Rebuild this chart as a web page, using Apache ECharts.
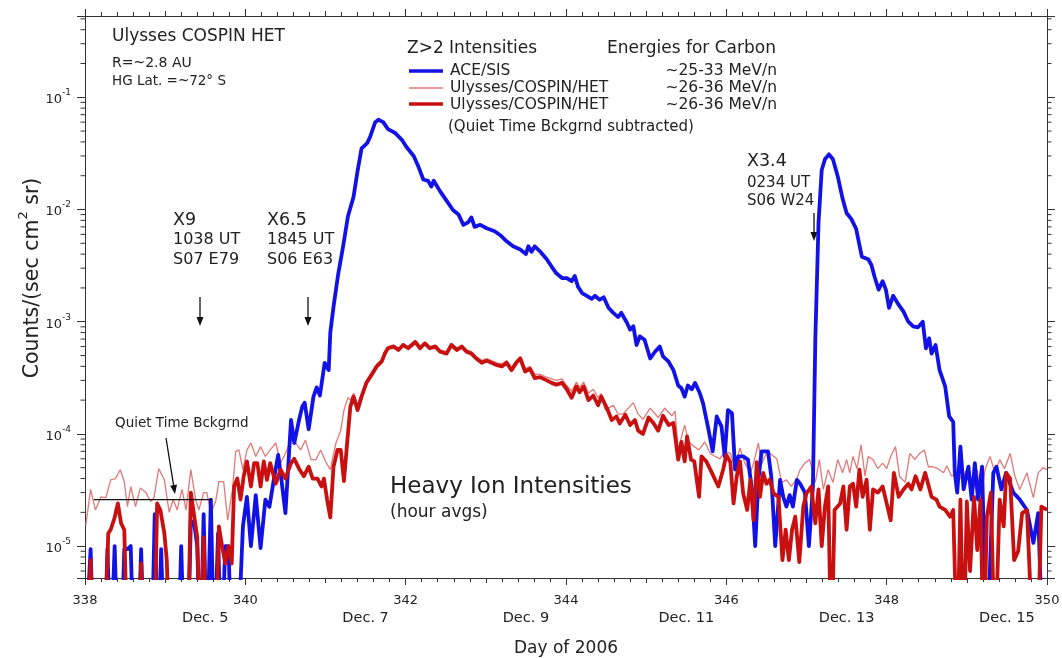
<!DOCTYPE html>
<html><head><meta charset="utf-8">
<script src="https://cdn.jsdelivr.net/npm/echarts@6/dist/echarts.min.js"></script>
<style>html,body{margin:0;padding:0;background:#fff}#c{width:1062px;height:658px}</style>
</head><body><div id="c"></div>
<script>
// ---- DATA (day of 2006, counts/(sec cm^2 sr)); 1e-6 = zero count (below axis) ----
const aceSis = [
[338.00,1e-6],[338.07,9.4e-6],[338.11,1e-6],
[338.24,1e-6],[338.28,9.4e-6],[338.32,1e-6],[338.37,1e-5],[338.41,1e-6],
[338.45,1e-6],[338.49,9.4e-6],[338.53,9.4e-6],[338.57,1e-5],[338.61,1e-6],
[338.66,1e-6],[338.70,9.4e-6],[338.74,1e-6],
[338.83,1e-6],[338.87,1.93e-5],[338.91,1e-6],[338.95,9.4e-6],[338.99,1e-6],
[339.16,1e-6],[339.20,1e-5],[339.24,1e-6],
[339.28,1e-6],[339.32,1.65e-5],[339.36,1.65e-5],[339.40,1e-5],[339.44,1e-6],[339.48,1.93e-5],[339.52,1e-6],
[339.57,2.6e-5],[339.61,1e-6],[339.66,1.3e-5],[339.70,1e-6],[339.75,1e-5],[339.79,1e-5],[339.83,1e-6],[339.90,1e-6],
[339.97,1.5e-5],[340.02,2.75e-5],[340.07,1e-5],[340.13,2.85e-5],[340.19,9.6e-6],[340.25,2.6e-5],[340.30,2.24e-5],
[340.36,4.1e-5],[340.41,6.5e-5],[340.45,3.9e-5],[340.50,1.97e-5],[340.57,1.33e-4],[340.61,8.3e-5],[340.67,1.33e-4],
[340.71,1.75e-4],[340.74,1.9e-4],[340.79,1.1e-4],[340.85,2.15e-4],[340.89,2.6e-4],[340.93,2.2e-4],[340.99,4.3e-4],
[341.04,3.7e-4],[341.06,8e-4],[341.10,1.36e-3],[341.16,2.7e-3],[341.22,4.7e-3],[341.28,8.7e-3],[341.35,1.3e-2],
[341.40,2.2e-2],[341.45,3.5e-2],[341.52,3.9e-2],[341.56,4.5e-2],[341.62,6e-2],[341.66,6.3e-2],[341.72,6e-2],
[341.78,5.2e-2],[341.87,4.8e-2],[341.95,4.2e-2],[342.01,3.6e-2],[342.10,3e-2],[342.16,2.4e-2],[342.22,1.85e-2],
[342.28,1.8e-2],[342.32,1.6e-2],[342.35,1.8e-2],[342.43,1.45e-2],[342.51,1.2e-2],[342.59,9.9e-3],[342.66,9e-3],
[342.72,7.3e-3],[342.78,7.7e-3],[342.82,8.5e-3],[342.86,7e-3],[342.93,7.3e-3],[343.01,6.8e-3],[343.11,6.4e-3],
[343.18,5.9e-3],[343.26,5.2e-3],[343.34,4.7e-3],[343.43,4.4e-3],[343.50,4.0e-3],[343.53,4.7e-3],[343.57,4.2e-3],
[343.61,4.7e-3],[343.68,4.2e-3],[343.76,3.6e-3],[343.82,3.1e-3],[343.88,2.7e-3],[343.95,2.45e-3],[344.01,2.45e-3],
[344.07,2.3e-3],[344.11,2.55e-3],[344.15,2.05e-3],[344.20,1.8e-3],[344.26,1.7e-3],[344.32,1.6e-3],[344.36,1.7e-3],
[344.42,1.57e-3],[344.47,1.65e-3],[344.53,1.33e-3],[344.59,1.2e-3],[344.65,1.1e-3],[344.69,1.2e-3],[344.76,9.8e-4],
[344.80,8.5e-4],[344.84,9.1e-4],[344.88,6.2e-4],[344.92,7.4e-4],[344.98,6.9e-4],[345.05,4.7e-4],[345.11,5.4e-4],
[345.17,6.0e-4],[345.21,4.9e-4],[345.28,4.4e-4],[345.34,3.7e-4],[345.40,2.7e-4],[345.44,2.55e-4],[345.48,2.15e-4],
[345.52,2.7e-4],[345.57,2.5e-4],[345.61,2.85e-4],[345.67,2.3e-4],[345.71,1.87e-4],[345.77,1.16e-4],[345.83,7e-5],
[345.88,1.43e-4],[345.94,1.16e-4],[345.98,6.3e-5],[346.02,1.63e-4],[346.07,1.53e-4],[346.11,4.8e-5],[346.15,6.3e-5],
[346.21,6.3e-5],[346.27,5.9e-5],[346.32,3.2e-5],[346.36,1e-5],[346.40,3.9e-5],[346.44,7e-5],[346.52,7e-5],
[346.56,4.2e-5],[346.61,1e-5],[346.67,3.9e-5],[346.71,2.75e-5],[346.75,2.25e-5],[346.79,2.85e-5],[346.83,2.25e-5],
[346.88,3.9e-5],[346.92,3.6e-5],[346.98,3e-5],[347.03,1e-5],[347.08,3.4e-5],[347.11,6.9e-4],[347.15,7.6e-3],
[347.19,2.25e-2],[347.23,2.8e-2],[347.28,3.1e-2],[347.33,2.8e-2],[347.39,1.97e-2],[347.45,1.25e-2],[347.50,9.3e-3],
[347.56,8.2e-3],[347.62,6.7e-3],[347.69,3.8e-3],[347.77,3.6e-3],[347.81,3.2e-3],[347.85,2.5e-3],[347.90,1.93e-3],
[347.95,2.3e-3],[347.99,1.93e-3],[348.03,1.33e-3],[348.08,1.7e-3],[348.14,1.45e-3],[348.21,1.23e-3],[348.27,1e-3],
[348.33,9.1e-4],[348.39,8.9e-4],[348.45,1e-3],[348.49,5.8e-4],[348.53,7.1e-4],[348.56,5.2e-4],[348.61,6.2e-4],
[348.66,3.7e-4],[348.73,2.65e-4],[348.78,1.43e-4],[348.83,1.28e-4],[348.85,4.5e-5],[348.88,3e-5],[348.92,7.7e-5],
[348.96,3.2e-5],[349.02,5.1e-5],[349.06,2.6e-5],[349.10,5.5e-5],[349.14,2.6e-5],[349.19,5.1e-5],[349.25,1e-6],
[349.33,4.5e-5],[349.37,5.1e-5],[349.43,3.2e-5],[349.49,4.5e-5],[349.58,3e-5],[349.66,2.6e-5],[349.75,2.1e-5],
[349.83,1.07e-5],[349.89,1.97e-5],[349.95,1e-6]
];
const hetRaw = [
[338.01,1.54e-5],[338.07,3.2e-5],[338.13,2.1e-5],[338.20,2.75e-5],[338.26,2.7e-5],[338.32,3.9e-5],[338.38,4e-5],
[338.44,4.8e-5],[338.49,3.75e-5],[338.53,2.25e-5],[338.57,3.4e-5],[338.63,2.25e-5],[338.69,3.3e-5],[338.76,3e-5],
[338.82,2.5e-5],[338.86,2.7e-5],[338.92,4.9e-5],[338.99,3.9e-5],[339.05,2e-5],[339.10,2.6e-5],[339.15,2.1e-5],
[339.21,3.2e-5],[339.26,2.1e-5],[339.32,4.8e-5],[339.38,2.6e-5],[339.42,2.1e-5],[339.48,3e-5],[339.52,3e-5],
[339.57,1.97e-5],[339.63,2.5e-5],[339.67,3.75e-5],[339.73,3.75e-5],[339.78,1.7e-5],[339.84,3.2e-5],[339.88,7e-5],
[339.92,7.2e-5],[339.97,4.8e-5],[340.02,7.2e-5],[340.07,8.3e-5],[340.13,6.3e-5],[340.19,7.7e-5],[340.25,6.3e-5],
[340.31,7.2e-5],[340.38,8.3e-5],[340.44,5.5e-5],[340.50,6.7e-5],[340.57,8.8e-5],[340.63,8.3e-5],[340.69,7.2e-5],
[340.75,8.8e-5],[340.82,5.9e-5],[340.88,5.9e-5],[340.94,7.2e-5],[341.00,5.7e-5],[341.06,4.8e-5],[341.13,8.3e-5],
[341.19,1.07e-4],[341.23,1.63e-4],[341.28,2.1e-4],[341.31,2.0e-4],[341.35,2.3e-4],[341.40,1.8e-4],[341.45,2.3e-4],
[341.51,3.0e-4],[341.58,3.6e-4],[341.64,4.2e-4],[341.70,4.6e-4],[341.74,5.4e-4],[341.78,6.0e-4],[341.85,6.2e-4],
[341.91,5.8e-4],[341.97,6.4e-4],[342.03,6.0e-4],[342.12,6.8e-4],[342.18,6.0e-4],[342.24,6.6e-4],[342.30,6.0e-4],
[342.37,6.2e-4],[342.43,5.6e-4],[342.51,5.4e-4],[342.57,6.4e-4],[342.64,5.8e-4],[342.70,6.2e-4],[342.76,5.6e-4],
[342.82,5.4e-4],[342.88,4.9e-4],[342.95,4.5e-4],[343.01,4.7e-4],[343.07,4.5e-4],[343.14,4.3e-4],[343.20,4.2e-4],
[343.26,4.5e-4],[343.32,3.9e-4],[343.38,4.5e-4],[343.43,4.9e-4],[343.49,3.8e-4],[343.55,4.0e-4],[343.61,3.4e-4],
[343.68,3.4e-4],[343.76,3.2e-4],[343.82,3.1e-4],[343.88,3.0e-4],[343.95,3.1e-4],[344.01,2.7e-4],[344.07,2.4e-4],
[344.13,2.9e-4],[344.17,2.6e-4],[344.22,2.9e-4],[344.28,2.3e-4],[344.34,2.5e-4],[344.40,2.1e-4],[344.44,2.3e-4],
[344.49,1.63e-4],[344.59,1.8e-4],[344.65,1.5e-4],[344.71,1.5e-4],[344.84,1.9e-4],[344.90,1.5e-4],[344.96,1.35e-4],
[345.05,1.7e-4],[345.15,1.4e-4],[345.23,1.7e-4],[345.32,1.45e-4],[345.36,1.6e-4],[345.40,7.2e-5],[345.48,1.2e-4],
[345.53,8.5e-5],[345.60,7.7e-5],[345.66,7.2e-5],[345.73,8.5e-5],[345.80,6.7e-5],[345.86,6.3e-5],[345.92,6e-5],
[345.98,7e-5],[346.05,6.7e-5],[346.11,5e-5],[346.17,7.5e-5],[346.23,5.5e-5],[346.30,4.5e-5],[346.34,5.5e-5],
[346.40,8.3e-5],[346.44,5.4e-5],[346.51,7e-5],[346.57,6.5e-5],[346.63,6e-5],[346.69,3.7e-5],[346.75,3.9e-5],
[346.81,3.4e-5],[346.88,4e-5],[346.92,4.8e-5],[346.98,5.5e-5],[347.04,5.9e-5],[347.11,3.7e-5],[347.16,5.9e-5],
[347.21,3.2e-5],[347.27,4.8e-5],[347.33,3.7e-5],[347.39,5.9e-5],[347.45,4.5e-5],[347.50,5.9e-5],[347.54,4.5e-5],
[347.58,6.3e-5],[347.63,4.9e-5],[347.68,8e-5],[347.73,4.2e-5],[347.77,6.3e-5],[347.83,5.9e-5],[347.89,4.9e-5],
[347.95,5.5e-5],[348.00,4.9e-5],[348.05,6.3e-5],[348.11,7.7e-5],[348.16,4.2e-5],[348.23,3.7e-5],[348.29,6.7e-5],
[348.35,5.9e-5],[348.41,6.7e-5],[348.47,7.2e-5],[348.52,5.1e-5],[348.58,5.1e-5],[348.64,4.9e-5],[348.71,4.5e-5],
[348.75,5.2e-5],[348.81,4.2e-5],[348.88,4.5e-5],[348.94,3.9e-5],[349.00,4.9e-5],[349.06,2.75e-5],[349.13,4.8e-5],
[349.17,2.6e-5],[349.23,4.9e-5],[349.29,6.3e-5],[349.35,4.5e-5],[349.41,5.9e-5],[349.47,4.9e-5],[349.54,6.7e-5],
[349.60,4.2e-5],[349.66,3.2e-5],[349.75,4.5e-5],[349.83,2.7e-5],[349.89,4.5e-5],[349.95,5e-5],[350.00,4.8e-5]
];
const hetSub = [
[338.03,1e-6],[338.07,7.5e-6],[338.11,1e-6],
[338.24,1e-6],[338.29,1.3e-5],[338.32,1.4e-5],[338.37,1.8e-5],[338.41,2.4e-5],[338.45,1.6e-5],[338.49,1.4e-5],[338.53,1e-6],
[338.66,1e-6],[338.70,7e-6],[338.74,1e-6],
[338.86,1e-6],[338.90,2.4e-5],[338.94,2.1e-5],[338.99,1.3e-5],[339.02,7.5e-6],[339.06,1e-6],
[339.28,1e-6],[339.32,3e-5],[339.36,1.9e-5],[339.40,1.2e-5],[339.44,1e-6],[339.48,1.2e-5],[339.52,1e-6],
[339.63,1e-6],[339.67,1.5e-5],[339.71,1e-5],[339.75,7e-6],[339.79,1e-5],[339.83,7e-6],[339.86,3.4e-5],[339.90,4e-5],
[339.94,2.6e-5],[339.98,4.2e-5],[340.02,5.7e-5],[340.07,3.4e-5],[340.11,5.5e-5],[340.15,5.5e-5],[340.19,3.4e-5],
[340.23,5.7e-5],[340.27,3.9e-5],[340.31,5.5e-5],[340.38,3.6e-5],[340.44,4.8e-5],[340.50,4e-5],[340.57,5.5e-5],
[340.61,6e-5],[340.67,4.9e-5],[340.73,4.2e-5],[340.79,5.1e-5],[340.84,4e-5],[340.90,4e-5],[340.95,3.4e-5],
[340.98,4e-5],[341.02,2.6e-5],[341.06,1.8e-5],[341.10,5.1e-5],[341.15,7.2e-5],[341.19,7.2e-5],[341.23,3.8e-5],
[341.27,8.3e-5],[341.31,1.75e-4],[341.35,2.15e-4],[341.40,1.63e-4],[341.45,2.15e-4],[341.51,2.85e-4],[341.58,3.4e-4],
[341.64,4e-4],[341.70,4.4e-4],[341.74,5.2e-4],[341.78,5.8e-4],[341.85,6e-4],[341.91,5.6e-4],[341.97,6.2e-4],
[342.03,5.8e-4],[342.12,6.6e-4],[342.18,5.8e-4],[342.24,6.4e-4],[342.30,5.8e-4],[342.37,6e-4],[342.43,5.4e-4],
[342.51,5.2e-4],[342.57,6.2e-4],[342.64,5.6e-4],[342.70,6e-4],[342.76,5.4e-4],[342.82,5.2e-4],[342.88,4.7e-4],
[342.95,4.3e-4],[343.01,4.5e-4],[343.07,4.3e-4],[343.14,4.1e-4],[343.20,4e-4],[343.26,4.3e-4],[343.32,3.7e-4],
[343.38,4.3e-4],[343.43,4.7e-4],[343.49,3.6e-4],[343.55,3.8e-4],[343.61,3.15e-4],[343.68,3.2e-4],[343.76,3e-4],
[343.82,2.85e-4],[343.88,2.75e-4],[343.95,2.85e-4],[344.01,2.5e-4],[344.07,2.1e-4],[344.13,2.65e-4],[344.17,2.35e-4],
[344.22,2.65e-4],[344.28,2e-4],[344.34,2.2e-4],[344.40,1.8e-4],[344.44,2.15e-4],[344.51,1.7e-4],[344.57,1.33e-4],
[344.63,1.43e-4],[344.67,1.24e-4],[344.74,1.48e-4],[344.80,1.2e-4],[344.86,1.33e-4],[344.90,1.07e-4],[344.96,1e-4],
[345.03,1.4e-4],[345.09,1.25e-4],[345.15,1.07e-4],[345.21,1.45e-4],[345.28,1.2e-4],[345.34,1.25e-4],[345.40,5.9e-5],
[345.44,8.5e-5],[345.48,5.7e-5],[345.51,9.5e-5],[345.56,5.9e-5],[345.60,5.7e-5],[345.66,2.75e-5],[345.69,6.3e-5],
[345.75,5.7e-5],[345.82,4.5e-5],[345.86,3.9e-5],[345.90,3.4e-5],[345.96,4.8e-5],[346.00,6.5e-5],[346.05,5.6e-5],
[346.09,2.4e-5],[346.13,4.2e-5],[346.17,5.7e-5],[346.21,2.95e-5],[346.26,2.1e-5],[346.30,3.9e-5],[346.34,1.7e-5],
[346.38,5.6e-5],[346.42,2.75e-5],[346.46,4.5e-5],[346.50,3.6e-5],[346.54,3.9e-5],[346.59,2.95e-5],[346.65,2.75e-5],
[346.70,7.5e-6],[346.74,1.4e-5],[346.78,7.5e-6],[346.82,1.4e-5],[346.86,1.83e-5],[346.91,7.2e-6],[346.96,2.25e-5],
[347.00,2.95e-5],[347.06,3.4e-5],[347.11,1.6e-5],[347.15,3.2e-5],[347.19,1e-5],[347.23,2.25e-5],[347.27,3.4e-5],
[347.31,1e-6],[347.35,2.1e-5],[347.42,2.4e-5],[347.46,3.4e-5],[347.50,1.4e-5],[347.54,3.4e-5],[347.58,3.6e-5],
[347.62,2.25e-5],[347.66,4.8e-5],[347.70,2.75e-5],[347.75,3.9e-5],[347.79,1.4e-5],[347.83,3.2e-5],[347.89,3e-5],
[347.95,3.4e-5],[348.01,2.25e-5],[348.05,1.7e-5],[348.09,4.5e-5],[348.15,2.75e-5],[348.21,3.2e-5],[348.27,3.6e-5],
[348.31,3.2e-5],[348.36,4.2e-5],[348.42,3.2e-5],[348.48,4.5e-5],[348.56,2.75e-5],[348.62,2.6e-5],[348.66,2.25e-5],
[348.73,2.1e-5],[348.79,1.83e-5],[348.83,2.1e-5],[348.88,1e-6],[348.92,2.6e-5],[348.96,1e-6],[349.00,2.5e-5],
[349.04,6e-6],[349.09,2.75e-5],[349.13,9.2e-6],[349.17,2.6e-5],[349.21,1e-6],[349.25,1.83e-5],[349.30,3e-5],
[349.35,1e-6],[349.41,2.6e-5],[349.46,1.5e-5],[349.49,4.5e-5],[349.54,4e-5],[349.59,7.5e-6],[349.64,9e-6],
[349.69,1.97e-5],[349.75,2.1e-5],[349.83,1e-6],[349.88,1e-6],[349.93,2.25e-5],[350.00,2.1e-5]
];
const quietBg = [[338.11,2.6e-5],[339.58,2.6e-5]];
const yMinorTicks = [6e-6,7e-6,8e-6,9e-6,2e-5,3e-5,4e-5,5e-5,6e-5,7e-5,8e-5,9e-5,
  2e-4,3e-4,4e-4,5e-4,6e-4,7e-4,8e-4,9e-4,2e-3,3e-3,4e-3,5e-3,6e-3,7e-3,8e-3,9e-3,
  2e-2,3e-2,4e-2,5e-2,6e-2,7e-2,8e-2,9e-2,2e-1,3e-1,4e-1,5e-1];
const dateLabels = {339.5:'Dec. 5',341.5:'Dec. 7',343.5:'Dec. 9',345.5:'Dec. 11',347.5:'Dec. 13',349.5:'Dec. 15'};
const X_MIN = 338, X_MAX = 350, Y_MIN = 5.2e-6, Y_MAX = 0.53;

// ---- CHART ----
const FONT = 'DejaVu Sans';
const INK = '#222';
const AX = '#333';
const chart = echarts.init(document.getElementById('c'), null, {renderer:'canvas'});

function txt(x, y, s, size, extra) {
  return Object.assign({type:'text', x:x, y:y, silent:true,
    style:Object.assign({text:s, fill:INK, fontSize:size, fontFamily:FONT, verticalAlign:'middle'}, (extra||{}))});
}
function arrow(x1,y1,x2,y2){
  const dx=x2-x1, dy=y2-y1, L=Math.hypot(dx,dy), ux=dx/L, uy=dy/L;
  const bx=x2-ux*9, by=y2-uy*9, px=-uy*3.5, py=ux*3.5;
  return {type:'group', silent:true, children:[
    {type:'line', shape:{x1:x1,y1:y1,x2:bx,y2:by}, style:{stroke:'#111', lineWidth:1.3}},
    {type:'polygon', shape:{points:[[x2,y2],[bx+px,by+py],[bx-px,by-py]]}, style:{fill:'#111'}}
  ]};
}
const supRich = {
  b:{fontSize:13, fontFamily:FONT, color:INK, lineHeight:18, verticalAlign:'bottom'},
  s:{fontSize:9, fontFamily:FONT, color:INK, lineHeight:18, verticalAlign:'top'}
};

const xBase = {type:'value', min:X_MIN, max:X_MAX, gridIndex:0,
  axisLine:{show:false, onZero:false}, splitLine:{show:false}, axisLabel:{show:false}, axisTick:{show:false}};

const option = {
  animation:false,
  backgroundColor:'#fff',
  grid:{left:85, right:15, top:16, bottom:80, containLabel:false, outerBoundsMode:'none'},
  xAxis:[
    Object.assign({}, xBase, {position:'bottom', interval:2,
      axisLine:{show:true, onZero:false, lineStyle:{color:AX, width:1}},
      axisTick:{show:true, length:7, lineStyle:{color:AX}},
      minorTick:{show:true, splitNumber:10, length:4, lineStyle:{color:AX}},
      axisLabel:{show:true, color:INK, fontSize:13, fontFamily:FONT, margin:16},
      name:'Day of 2006', nameLocation:'middle', nameGap:62,
      nameTextStyle:{color:INK, fontSize:17, fontFamily:FONT}}),
    Object.assign({}, xBase, {position:'bottom', interval:1,
      axisTick:{show:true, length:5, lineStyle:{color:AX}}}),
    Object.assign({}, xBase, {position:'bottom', interval:0.5,
      axisLabel:{show:true, color:INK, fontSize:14.5, fontFamily:FONT, margin:33,
        formatter:v => dateLabels[v] || ''}}),
    Object.assign({}, xBase, {position:'top', interval:2,
      axisLine:{show:true, onZero:false, lineStyle:{color:AX, width:1}},
      axisTick:{show:true, length:7, lineStyle:{color:AX}},
      minorTick:{show:true, splitNumber:10, length:4, lineStyle:{color:AX}}}),
    Object.assign({}, xBase, {position:'top', interval:1,
      axisTick:{show:true, length:5, lineStyle:{color:AX}}})
  ],
  yAxis:[
    {type:'log', logBase:10, min:Y_MIN, max:Y_MAX, position:'left', splitNumber:5,
      axisLine:{show:true, onZero:false, lineStyle:{color:AX, width:1}},
      axisTick:{show:true, length:8, lineStyle:{color:AX}},
      splitLine:{show:false},
      axisLabel:{show:true, margin:14, rich:supRich,
        formatter:v => { const e = Math.log10(v); const r = Math.round(e);
          return Math.abs(e-r) < 0.01 ? '{b|10}{s|' + r + '}' : ''; }}},
    {type:'log', logBase:10, min:Y_MIN, max:Y_MAX, position:'right', splitNumber:5,
      axisLine:{show:true, onZero:false, lineStyle:{color:AX, width:1}},
      axisTick:{show:true, length:8, lineStyle:{color:AX}},
      splitLine:{show:false}, axisLabel:{show:false}}
  ],
  series:[
    {type:'custom', name:'minorTicks', xAxisIndex:0, yAxisIndex:0, clip:false, silent:true,
      data: yMinorTicks.map(v => [X_MIN, v]),
      encode:{x:0, y:1},
      renderItem:(params, api) => {
        const v = api.value(1);
        const a = api.coord([X_MIN, v]);
        const b = api.coord([X_MAX, v]);
        return {type:'group', children:[
          {type:'line', shape:{x1:a[0]-4.5, y1:a[1], x2:a[0], y2:a[1]}, style:{stroke:AX, lineWidth:1}},
          {type:'line', shape:{x1:b[0], y1:b[1], x2:b[0]+4.5, y2:b[1]}, style:{stroke:AX, lineWidth:1}}
        ]};
      }},
    {type:'line', name:'Ulysses/COSPIN/HET', data:hetRaw, showSymbol:false, symbol:'none',
      lineStyle:{color:'#e07a78', width:1.3}, z:2},
    {type:'line', name:'ACE/SIS', data:aceSis, showSymbol:false, symbol:'none',
      lineStyle:{color:'#1212e6', width:3.8, join:'round'}, z:3},
    {type:'line', name:'Ulysses/COSPIN/HET (bg subtracted)', data:hetSub, showSymbol:false, symbol:'none',
      lineStyle:{color:'#c81010', width:3.8, join:'round'}, z:4},
    {type:'line', name:'Quiet Time Bckgrnd', data:quietBg, showSymbol:false, symbol:'none',
      lineStyle:{color:'#111', width:1.2}, z:5}
  ],
  graphic:[
    txt(112, 37, 'Ulysses COSPIN HET', 17),
    txt(112, 63, 'R=~2.8 AU', 14),
    txt(112, 81, 'HG Lat. =~72° S', 13.5),
    txt(407, 49, 'Z>2 Intensities', 17),
    txt(607, 49, 'Energies for Carbon', 17),
    {type:'line', silent:true, shape:{x1:409,y1:71,x2:443,y2:71}, style:{stroke:'#1212e6', lineWidth:3.5}},
    {type:'line', silent:true, shape:{x1:409,y1:88,x2:443,y2:88}, style:{stroke:'#e07a78', lineWidth:1.3}},
    {type:'line', silent:true, shape:{x1:409,y1:104,x2:443,y2:104}, style:{stroke:'#c81010', lineWidth:3.5}},
    txt(450, 71, 'ACE/SIS', 15.5),
    txt(777, 71, '~25-33 MeV/n', 15.5, {align:'right'}),
    txt(450, 88, 'Ulysses/COSPIN/HET', 15.5),
    txt(777, 88, '~26-36 MeV/n', 15.5, {align:'right'}),
    txt(450, 105, 'Ulysses/COSPIN/HET', 15.5),
    txt(777, 105, '~26-36 MeV/n', 15.5, {align:'right'}),
    txt(448, 127, '(Quiet Time Bckgrnd subtracted)', 15),
    txt(173, 220, 'X9', 17.5),
    txt(173, 240, '1038 UT', 16),
    txt(173, 260, 'S07 E79', 16),
    txt(267, 220, 'X6.5', 17.5),
    txt(267, 240, '1845 UT', 16),
    txt(267, 260, 'S06 E63', 16),
    txt(747, 161, 'X3.4', 17.5),
    txt(747, 183, '0234 UT', 15),
    txt(747, 201, 'S06 W24', 15),
    arrow(200, 297, 200, 326),
    arrow(308, 297, 308, 326),
    arrow(814, 213, 814, 241),
    txt(115, 423, 'Quiet Time Bckgrnd', 13.5),
    arrow(166, 438, 175, 494),
    txt(390, 487, 'Heavy Ion Intensities', 23),
    txt(390, 513, '(hour avgs)', 17),
    {type:'text', x:30, y:278, rotation:Math.PI/2, silent:true,
      style:{text:'{b|Counts/(sec cm}{s|2}{b| sr)}', align:'center', verticalAlign:'middle',
        rich:{b:{fontSize:20.5, fontFamily:FONT, fill:INK, lineHeight:26, verticalAlign:'bottom'},
              s:{fontSize:13, fontFamily:FONT, fill:INK, lineHeight:26, verticalAlign:'top'}}}}
  ]
};
chart.setOption(option);
</script>
</body></html>
